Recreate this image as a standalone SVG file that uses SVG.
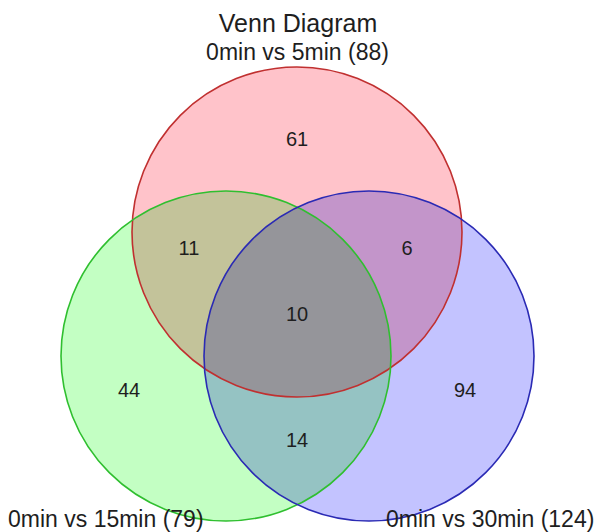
<svg xmlns="http://www.w3.org/2000/svg" width="596" height="532" viewBox="0 0 596 532">
<style>
.t{font-family:"Liberation Sans",Arial,sans-serif;fill:#1e1e1e;text-anchor:middle}
.title{font-size:25px}
.lab{font-size:23px}
.num{font-size:20px}
.set{stroke:none;mix-blend-mode:multiply}
</style>
<rect width="596" height="532" fill="#ffffff"/>
<g id="sets" style="isolation:isolate">
<rect width="596" height="532" fill="#ffffff"/>
<g id="set-5min"><circle class="set" cx="297" cy="232" r="165" fill="#ffc3ca"/></g>
<g id="set-15min"><circle class="set" cx="226" cy="356" r="165" fill="#c3ffc3"/></g>
<g id="set-30min"><circle class="set" cx="369" cy="356" r="165" fill="#c3c3ff"/></g>
</g>
<g id="borders" fill="none" stroke-width="1.6">
<circle cx="297" cy="232" r="165" stroke="#c03030"/>
<circle cx="226" cy="356" r="165" stroke="#2fbf2f"/>
<circle cx="369" cy="356" r="165" stroke="#2a2ab4"/>
</g>
<g id="labels">
<text class="t title" x="298" y="32">Venn Diagram</text>
<text class="t lab" x="297.5" y="60">0min vs 5min (88)</text>
<text class="t lab" x="8" y="527" style="text-anchor:start">0min vs 15min (79)</text>
<text class="t lab" x="386" y="527" style="text-anchor:start">0min vs 30min (124)</text>
</g>
<g id="counts">
<text class="t num" x="297" y="146">61</text>
<text class="t num" x="189" y="255">11</text>
<text class="t num" x="407" y="255">6</text>
<text class="t num" x="297" y="321">10</text>
<text class="t num" x="129" y="397">44</text>
<text class="t num" x="465" y="397">94</text>
<text class="t num" x="297" y="447">14</text>
</g>
</svg>
